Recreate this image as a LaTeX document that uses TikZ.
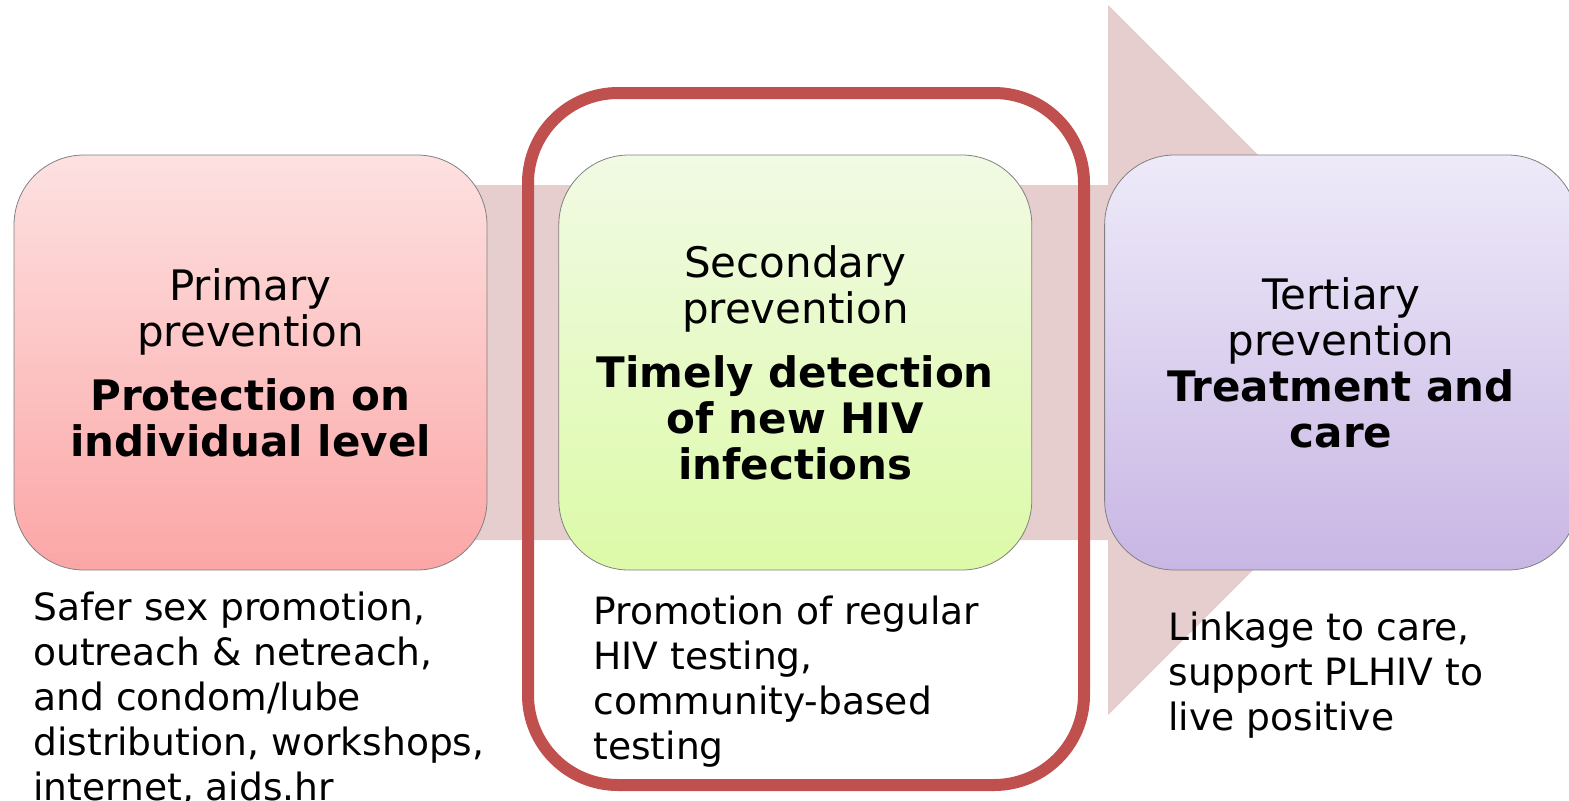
\documentclass[tikz,border=0pt]{standalone}
\usepackage{fontspec}
\setmainfont{DejaVu Sans}
\usepackage{tikz}
\usetikzlibrary{positioning}
\definecolor{shaftpink}{RGB}{230,206,206}
\definecolor{framered}{RGB}{192,80,77}
\definecolor{pinktop}{RGB}{253,225,225}
\definecolor{pinkbot}{RGB}{252,166,166}
\definecolor{greentop}{RGB}{241,250,228}
\definecolor{greenbot}{RGB}{220,250,168}
\definecolor{lilactop}{RGB}{238,234,249}
\definecolor{lilacbot}{RGB}{200,182,228}
\tikzstyle{stage} = [rectangle, rounded corners=35pt, minimum width=236.5pt, minimum height=207.5pt, inner sep=0pt, align=center, draw=gray, line width=0.4pt, font=\fontsize{21}{23}\selectfont]
\tikzstyle{note} = [anchor=north west, inner sep=0pt, align=left, font=\fontsize{18.8}{22.5}\selectfont]
\tikzstyle{frame} = [draw=framered, line width=6pt, rounded corners=45pt]

\begin{document}
\begin{tikzpicture}[x=0.5pt, y=-0.5pt]
\useasboundingbox (0,0) rectangle (1569,800);

% Background arrow
\fill[shaftpink] (250,185) -- (1108,185) -- (1108,5) -- (1463,360) -- (1108,715) -- (1108,540) -- (250,540) -- cycle;

% Stages
\node (primary) [stage, top color=pinktop, bottom color=pinkbot] at (250.5,362.5) {Primary\\prevention\\[9pt]\textbf{Protection on}\\\textbf{individual level}};
\node (secondary) [stage, top color=greentop, bottom color=greenbot, right=35.5pt of primary] {Secondary\\prevention\\[9pt]\textbf{Timely detection}\\\textbf{of new HIV}\\\textbf{infections}};
\node (tertiary) [stage, top color=lilactop, bottom color=lilacbot, right=36pt of secondary] {Tertiary\\prevention\\\textbf{Treatment and}\\\textbf{care}};

% Highlight
\draw [frame] (528,93) rectangle (1084,785);

% Notes
\node (primarynote) [note] at (33,592) {Safer sex promotion,\\outreach \& netreach,\\and condom/lube\\distribution, workshops,\\internet, aids.hr};
\node (secondarynote) [note] at (593,596) {Promotion of regular\\HIV testing,\\community-based\\testing};
\node (tertiarynote) [note] at (1168,612) {Linkage to care,\\support PLHIV to\\live positive};

\end{tikzpicture}
\end{document}
